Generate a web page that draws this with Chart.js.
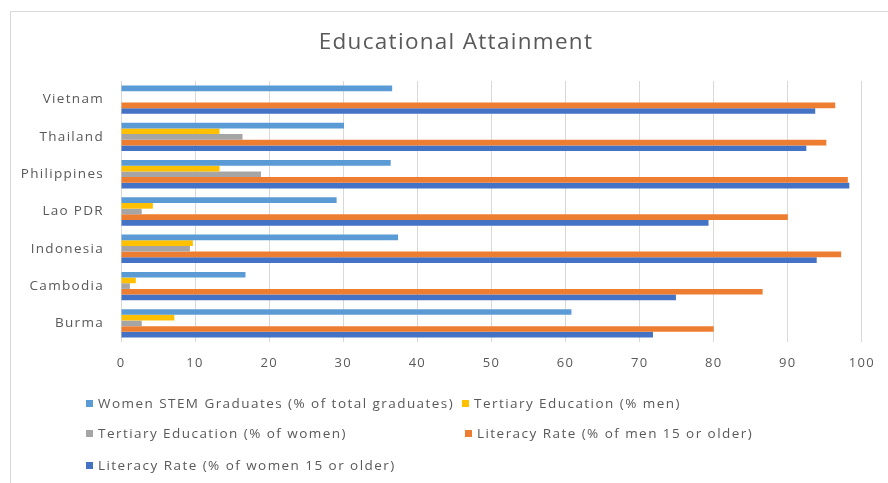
<!DOCTYPE html>
<html>
<head>
<meta charset="utf-8">
<script src="https://cdn.jsdelivr.net/npm/chart.js@4/dist/chart.umd.min.js"></script>
<style>
  html, body { margin: 0; padding: 0; background: #fff; }
  .wrap { position: relative; width: 888px; height: 483px; overflow: hidden; }
  .frame { position: absolute; left: 10px; top: 11px; width: 900px; height: 500px; border: 1px solid #d9d9d9; box-sizing: border-box; }
  canvas { position: absolute; left: 0; top: 0; }
  .legend { position: absolute; left: 0; top: 0; font-family: "Open Sans", sans-serif; font-size: 13.5px; letter-spacing: 1.45px; color: #595959; }
  .legend-item { position: absolute; white-space: nowrap; line-height: 16px; }
  .legend-item i { display: inline-block; width: 7px; height: 7px; margin-right: 5px; vertical-align: 1px; }
</style>
</head>
<body>
<div class="wrap">
  <div class="frame"></div>
  <canvas id="grafico" width="888" height="483"></canvas>
  <div class="legend" id="legenda"></div>
</div>
<script>
  // paises, de cima para baixo
  const paises = ["Vietnam", "Thailand", "Philippines", "Lao PDR", "Indonesia", "Cambodia", "Burma"];

  const stemMulheres = [36.6, 30.1, 36.4, 29.1, 37.4, 16.8, 60.8];
  const terciarioHomens = [0, 13.3, 13.3, 4.3, 9.7, 2.0, 7.2];
  const terciarioMulheres = [0, 16.4, 18.9, 2.8, 9.3, 1.2, 2.8];
  const alfabHomens = [96.4, 95.2, 98.1, 90.0, 97.2, 86.6, 80.0];
  const alfabMulheres = [93.7, 92.5, 98.3, 79.3, 93.9, 74.9, 71.8];

  const ticksX = [0, 10, 20, 30, 40, 50, 60, 70, 80, 90, 100];

  const titulo = "Educational Attainment";

  const series = [
    { label: "Women STEM Graduates (% of total graduates)", data: stemMulheres, cor: "#5b9bd5" },
    { label: "Tertiary Education (% men)", data: terciarioHomens, cor: "#ffc000" },
    { label: "Tertiary Education (% of women)", data: terciarioMulheres, cor: "#a5a5a5" },
    { label: "Literacy Rate (% of men 15 or older)", data: alfabHomens, cor: "#ed7d31" },
    { label: "Literacy Rate (% of women 15 or older)", data: alfabMulheres, cor: "#4472c4" },
  ];

  // posicao de cada item da legenda (coluna, linha)
  const posLegenda = [[86, 395], [462, 395], [86, 425], [465, 425], [86, 457]];

  const fonte = "'Open Sans', sans-serif";
  const cinza = "#595959";

  // texto do canvas um pouco mais espacado
  const espacamento = {
    id: "espacamento",
    beforeUpdate(chart) {
      chart.ctx.letterSpacing = "1.3px";
    },
    beforeDraw(chart) {
      chart.ctx.letterSpacing = "1.3px";
    },
  };

  // titulo centrado na moldura inteira, nao so na area do grafico
  const tituloCentrado = {
    id: "tituloCentrado",
    afterDraw(chart) {
      const ctx = chart.ctx;
      ctx.save();
      ctx.letterSpacing = "1.3px";
      ctx.font = `22.5px ${fonte}`;
      ctx.fillStyle = cinza;
      ctx.textAlign = "center";
      ctx.textBaseline = "middle";
      ctx.fillText(titulo, 456, 43);
      ctx.restore();
    },
  };

  new Chart(document.getElementById("grafico").getContext("2d"), {
    type: "bar",
    plugins: [espacamento, tituloCentrado],
    data: {
      labels: paises,
      datasets: series.map((s) => ({
        label: s.label,
        data: s.data,
        backgroundColor: s.cor,
        borderWidth: 0,
        barPercentage: 1,
        categoryPercentage: 0.76,
      })),
    },
    options: {
      indexAxis: "y",
      responsive: false,
      animation: false,
      layout: { padding: { left: 10, right: 26, top: 81, bottom: 111 } },
      scales: {
        x: {
          min: 0,
          max: 100,
          afterBuildTicks: (scale) => {
            scale.ticks = ticksX.map((v) => ({ value: v }));
          },
          afterFit: (scale) => {
            scale.height = 30;
          },
          grid: { color: "#d9d9d9", lineWidth: 1, drawTicks: false },
          border: { display: false },
          ticks: { color: cinza, font: { family: fonte, size: 13 }, padding: 13 },
        },
        y: {
          afterFit: (scale) => {
            scale.width = 111;
          },
          grid: { display: false },
          border: { display: false },
          ticks: { color: cinza, font: { family: fonte, size: 13.5 }, padding: 9 },
        },
      },
      plugins: {
        legend: { display: false },
        tooltip: { enabled: false },
        title: { display: false },
      },
    },
  });

  const leg = document.getElementById("legenda");
  leg.innerHTML = series
    .map((s, i) => {
      const [x, y] = posLegenda[i];
      return `<div class="legend-item" style="left:${x}px;top:${y}px"><i style="background:${s.cor}"></i>${s.label}</div>`;
    })
    .join("");
</script>
</body>
</html>
